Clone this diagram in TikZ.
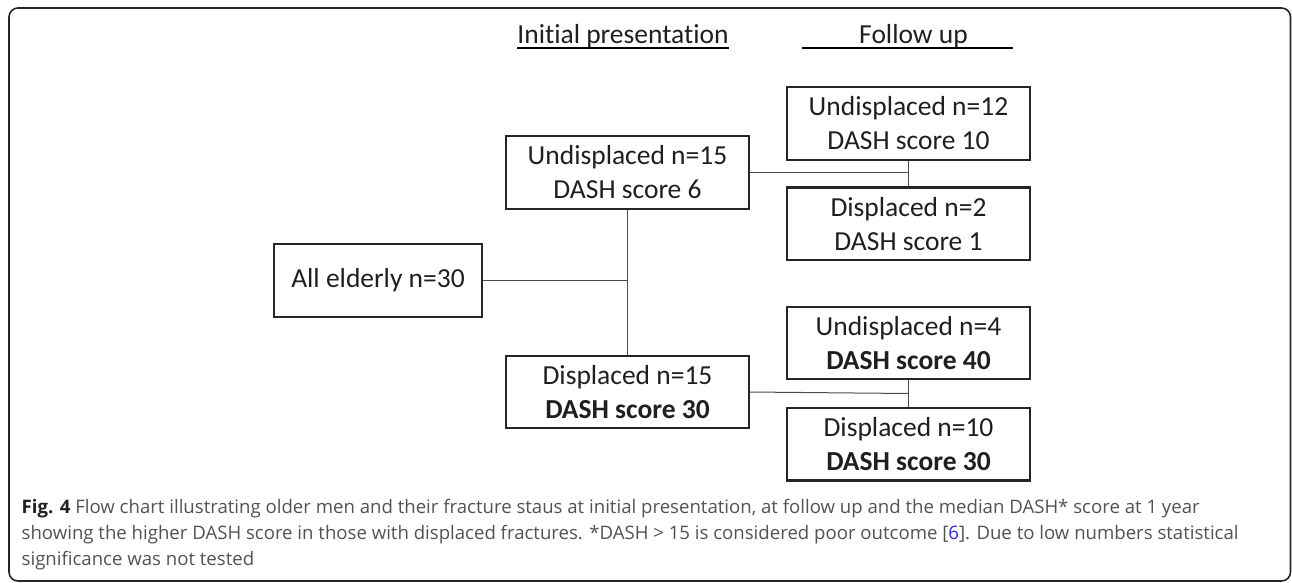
\documentclass[tikz,border=0pt]{standalone}
\usepackage{fontspec}
\setmainfont{Carlito}[Ligatures=NoCommon]
\newfontfamily\capfont{Open Sans}
\usetikzlibrary{positioning}
\definecolor{boxtext}{gray}{0.12}
\definecolor{captext}{gray}{0.32}
\definecolor{reflink}{RGB}{40,40,225}

\begin{document}
\begin{tikzpicture}[x=1pt, y=-1pt,
  group/.style={draw=black!85, line width=2.4pt, minimum width=242.5pt, minimum height=72.5pt,
    inner sep=0pt, align=center, text=boxtext, font=\fontsize{27.5}{34}\selectfont},
  heading/.style={inner sep=0pt, text=boxtext, font=\fontsize{27.5}{34}\selectfont},
  link/.style={draw=black!70, line width=1pt},
  underl/.style={draw=black, line width=1.6pt}]

  % Frame
  \useasboundingbox (0,0) rectangle (1292,582);
  \draw[line width=1.6pt, draw=black!85, rounded corners=9pt] (9,8) rectangle (1290.5,581);

  % Headings
  \node[heading, anchor=base] (hinit) at (623,43.3) {Initial presentation};
  \node[heading, anchor=base] (hfol) at (913.5,43.3) {Follow up};
  \draw[underl] ([yshift=-4.5pt]hinit.base west) -- ([yshift=-4.5pt]hinit.base east);
  \draw[underl] ([xshift=-57pt, yshift=-4.5pt]hfol.base west) -- ([xshift=45pt, yshift=-4.5pt]hfol.base east);

  % Groups
  \node[group, minimum width=207.5pt] (all) at (378,280.5) {All elderly n=30};
  \node[group] (u15) at (627.5,172.5) {Undisplaced n=15\\DASH score 6};
  \node[group] (d15) at (627.5,392) {Displaced n=15\\\textbf{DASH score 30}};

  \node[group] (u12) at (908.5,123.5) {Undisplaced n=12\\DASH score 10};
  \node[group, below=25.5pt of u12] (d2) {Displaced n=2\\DASH score 1};
  \node[group] (u4) at (908.5,343) {Undisplaced n=4\\\textbf{DASH score 40}};
  \node[group, below=26.5pt of u4] (d10) {Displaced n=10\\\textbf{DASH score 30}};

  % Links
  \draw[link] (u15) -- (d15);
  \draw[link] (all) -- (all -| u15);
  \draw[link] (u12) -- (d2);
  \draw[link] (u15) -- (u15 -| u12);
  \draw[link] (u4) -- (d10);
  \draw[link] (d15.east) -- ([yshift=-1.5pt]d15.east -| u4);

  % Caption
  \node[anchor=north west, inner sep=0pt, align=left, text=captext,
    font=\capfont\fontsize{18.6}{26}\selectfont] (caption) at (21.5,499)
    {\textcolor{boxtext}{\textbf{Fig. 4}} Flow chart illustrating older men and their fracture staus at initial presentation, at follow up and the median DASH* score at 1 year\\
     showing the higher DASH score in those with displaced fractures. *DASH > 15 is considered poor outcome [{\color{reflink}6}]. Due to low numbers statistical\\
     significance was not tested};

\end{tikzpicture}
\end{document}
